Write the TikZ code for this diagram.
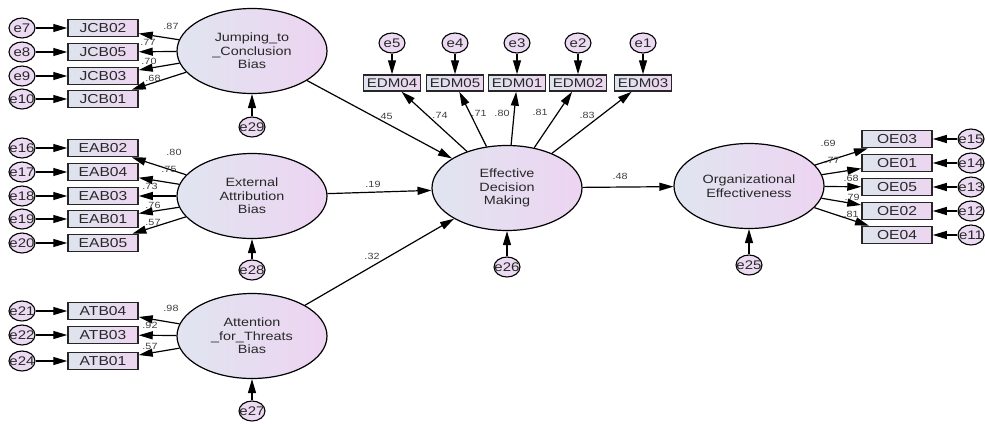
\documentclass[tikz,border=0pt]{standalone}
\usepackage{fontspec}
\setmainfont{Liberation Sans}[FakeStretch=1.2]
\usetikzlibrary{shapes.geometric,arrows.meta}
\definecolor{ellL}{RGB}{224,229,240}
\definecolor{ellR}{RGB}{237,212,241}
\definecolor{boxL}{RGB}{222,228,238}
\definecolor{boxR}{RGB}{237,213,240}
\definecolor{errF}{RGB}{236,218,242}
\definecolor{txt}{RGB}{40,40,40}
\begin{document}
\begin{tikzpicture}[x=1pt,y=-1pt,
  latent/.style={ellipse, draw=black, line width=1.2pt, minimum width=150pt, minimum height=85pt,
    inner sep=0pt, align=center, text=txt, font=\fontsize{12}{13.5}\selectfont,
    left color=ellL, right color=ellR},
  obs/.style={rectangle, draw=black!85, line width=1.5pt, minimum width=70pt, minimum height=17pt,
    inner sep=0pt, text=txt, font=\fontsize{13}{13}\selectfont, left color=boxL, right color=boxR},
  obsedm/.style={obs, minimum width=57pt, minimum height=16pt, font=\fontsize{12.6}{13}\selectfont},
  err/.style={ellipse, draw=black, line width=1.1pt, minimum width=26pt, minimum height=20pt,
    inner sep=0pt, fill=errF, label={[errtxt]center:#1}},
  errtxt/.style={inner sep=0pt, text=txt, font=\fontsize{12.5}{12.5}\selectfont},
  path/.style={-{Triangle[length=14pt,width=8pt]}, line width=1.2pt, draw=black},
  lbl/.style={inner sep=0pt, text=black!75, font=\fontsize{9}{9}\selectfont}
]
\useasboundingbox (0,0) rectangle (985,423);

% latent variables
\node[latent] (JCB) at (252,51) {Jumping\_to\\\_Conclusion\\Bias};
\node[latent] (EAB) at (252,196) {External\\Attribution\\Bias};
\node[latent] (ATB) at (252,336) {Attention\\\_for\_Threats\\Bias};
\node[latent] (EDM) at (507,188) {Effective\\Decision\\Making};
\node[latent] (OE) at (749,186) {Organizational\\Effectiveness};

% disturbances
\node[err=e29] (e29) at (252,127) {};
\node[err=e28] (e28) at (252,270) {};
\node[err=e27] (e27) at (252,411) {};
\node[err=e26] (e26) at (507,267) {};
\node[err=e25] (e25) at (749,265) {};
\draw[path] (e29) -- (JCB);
\draw[path] (e28) -- (EAB);
\draw[path] (e27) -- (ATB);
\draw[path] (e26) -- (EDM);
\draw[path] (e25) -- (OE);

% JCB indicators
\foreach \n/\y/\e in {JCB02/28/e7, JCB05/52/e8, JCB03/76/e9, JCB01/99/e10}{
  \node[obs] (\n) at (103,\y) {\n};
  \node[err=\e] (\e) at (22,\y) {};
  \draw[path] (\e) -- (\n);
  \draw[path] (JCB) -- (\n);
}
% EAB indicators
\foreach \n/\y/\e in {EAB02/148/e16, EAB04/172/e17, EAB03/196/e18, EAB01/219/e19, EAB05/243/e20}{
  \node[obs] (\n) at (103,\y) {\n};
  \node[err=\e] (\e) at (22,\y) {};
  \draw[path] (\e) -- (\n);
  \draw[path] (EAB) -- (\n);
}
% ATB indicators
\foreach \n/\y/\e in {ATB04/311/e21, ATB03/335/e22, ATB01/361/e24}{
  \node[obs] (\n) at (103,\y) {\n};
  \node[err=\e] (\e) at (22,\y) {};
  \draw[path] (\e) -- (\n);
  \draw[path] (ATB) -- (\n);
}
% EDM indicators
\foreach \n/\x/\e in {EDM04/392/e5, EDM05/455/e4, EDM01/517/e3, EDM02/578/e2, EDM03/643/e1}{
  \node[obsedm] (\n) at (\x,83) {\n};
  \node[err=\e] (\e) at (\x,43) {};
  \draw[path] (\e) -- (\n);
  \draw[path] (EDM) -- (\n);
}
% OE indicators
\foreach \n/\y/\e in {OE03/139/e15, OE01/163/e14, OE05/187/e13, OE02/211/e12, OE04/235/e11}{
  \node[obs] (\n) at (897,\y) {\n};
  \node[err=\e] (\e) at (971,\y) {};
  \draw[path] (\e) -- (\n);
  \draw[path] (OE) -- (\n);
}

% structural paths
\draw[path] (JCB) -- (EDM);
\draw[path] (EAB) -- (EDM);
\draw[path] (ATB) -- (EDM);
\draw[path] (EDM) -- (OE);

% coefficient labels
\node[lbl] (l1) at (385,116) {.45};
\node[lbl] (l2) at (373,184) {.19};
\node[lbl] (l3) at (372,256) {.32};
\node[lbl] (l4) at (620,176) {.48};
\node[lbl] (l5) at (440,115) {.74};
\node[lbl] (l6) at (479,113) {.71};
\node[lbl] (l7) at (502,113) {.80};
\node[lbl] (l8) at (540,112) {.81};
\node[lbl] (l9) at (587,115) {.83};
\node[lbl] (l10) at (171,26) {.87};
\node[lbl] (l11) at (148,42) {.77};
\node[lbl] (l12) at (149,61) {.70};
\node[lbl] (l13) at (153,78) {.68};
\node[lbl] (l14) at (174,152) {.80};
\node[lbl] (l15) at (169,169) {.75};
\node[lbl] (l16) at (150,186) {.73};
\node[lbl] (l17) at (153,205) {.76};
\node[lbl] (l18) at (153,222) {.57};
\node[lbl] (l19) at (171,308) {.98};
\node[lbl] (l20) at (150,325) {.92};
\node[lbl] (l21) at (150,346) {.57};
\node[lbl] (l22) at (828,143) {.69};
\node[lbl] (l23) at (832,160) {.77};
\node[lbl] (l24) at (851,178) {.68};
\node[lbl] (l25) at (852,197) {.79};
\node[lbl] (l26) at (851,214) {.81};
\end{tikzpicture}
\end{document}
